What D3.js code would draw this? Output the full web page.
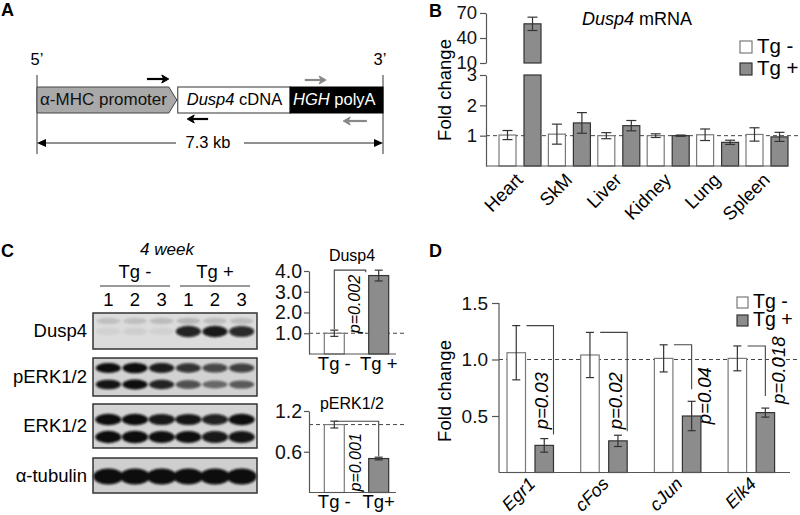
<!DOCTYPE html>
<html>
<head>
<meta charset="utf-8">
<script src="https://cdn.jsdelivr.net/npm/d3@7"></script>
<style>
  body { margin: 0; background: #fff; }
</style>
</head>
<body>
<svg id="fig" width="800" height="515"></svg>
<script>
// ---------- data ----------
// panel A: construct map, positions in kb
const constructKb = 7.3
const segNames = ['α-MHC promoter', 'Dusp4 cDNA', 'HGH polyA']
const segStartKb = [0, 2.97, 5.34]
const segEndKb = [2.95, 5.34, 7.3]
const primerFromKb = [2.32, 3.61, 5.65, 6.96]
const primerToKb = [2.78, 3.17, 6.1, 6.46]

// panel B: Dusp4 mRNA by tissue
const tissues = ['Heart', 'SkM', 'Liver', 'Kidney', 'Lung', 'Spleen']
const groups = ['Tg -', 'Tg +']
const mrnaNeg = [1.02, 1.05, 1.0, 1.0, 1.03, 1.04]
const mrnaNegErr = [0.15, 0.33, 0.1, 0.06, 0.19, 0.22]
const mrnaPos = [57, 1.42, 1.33, 1.0, 0.78, 0.96]
const mrnaPosErr = [8, 0.34, 0.17, 0.02, 0.07, 0.15]
const mrnaLowTicks = [1, 2, 3]
const mrnaHighTicks = [10, 40, 70]

// panel C: western blots (band intensity per lane) and quantification
const laneNumbers = [1, 2, 3, 1, 2, 3]
const blotNames = ['Dusp4', 'pERK1/2', 'ERK1/2', 'α-tubulin']
const dusp4Band = [0.05, 0.06, 0.05, 0.85, 0.9, 0.82]
const dusp4Smear = [0.12, 0.12, 0.14, 0.16, 0.14, 0.14]
const perkUpper = [0.95, 1.0, 0.88, 0.78, 0.68, 0.72]
const perkLower = [0.92, 0.98, 0.85, 0.65, 0.48, 0.55]
const erkUpper = [0.95, 1.0, 0.9, 0.92, 0.86, 0.95]
const erkLower = [0.98, 1.0, 0.94, 0.94, 0.9, 0.92]
const tubulinBand = [1, 1, 1, 1, 1, 1]
const dusp4Protein = [1.0, 3.78]
const dusp4ProteinErr = [0.15, 0.26]
const dusp4Ticks = [1, 2, 3, 4]
const perkProtein = [1.0, 0.5]
const perkProteinErr = [0.05, 0.02]
const perkTicks = [0.6, 1.2]
const cLabelsTop = ['Tg -', 'Tg +']
const cLabelsBottom = ['Tg -', 'Tg+']

// panel D: target genes
const genes = ['Egr1', 'cFos', 'cJun', 'Elk4']
const geneNeg = [1.06, 1.04, 1.01, 1.01]
const geneNegErr = [0.24, 0.2, 0.12, 0.11]
const genePos = [0.24, 0.28, 0.5, 0.53]
const genePosErr = [0.06, 0.05, 0.13, 0.04]
const pValues = ['0.03', '0.02', '0.04', '0.018']
const geneTicks = [0.5, 1.0, 1.5]

// ---------- drawing ----------
const FONT = "'Liberation Sans', Arial, Helvetica, sans-serif"
const NEG_FILL = '#ffffff', NEG_STROKE = '#7a7a7a'
const POS_FILL = '#8c8c8c', POS_STROKE = '#333'
const AXIS = '#555'

const svg = d3.select('#fig').attr('font-family', FONT)

const defs = svg.append('defs')
defs.append('filter').attr('id', 'blur')
  .attr('x', '-50%').attr('y', '-50%').attr('width', '200%').attr('height', '200%')
  .append('feGaussianBlur').attr('stdDeviation', 1.3)

function panelLetter(letter, x, y) {
  svg.append('text').attr('x', x).attr('y', y)
    .attr('font-size', 18).attr('font-weight', 'bold').text(letter)
}

function styleAxis(g, size) {
  g.attr('font-family', FONT)
  g.select('.domain').attr('stroke', AXIS).attr('stroke-width', 1.2)
  g.selectAll('.tick line').attr('stroke', AXIS).attr('stroke-width', 1.2)
  g.selectAll('.tick text').attr('font-size', size).attr('fill', '#111')
}

function errorBar(g, x, y1, y2, w) {
  g.append('line').attr('x1', x).attr('x2', x).attr('y1', y1).attr('y2', y2)
    .attr('stroke', '#333').attr('stroke-width', 1.2)
  g.append('line').attr('x1', x - w / 2).attr('x2', x + w / 2).attr('y1', y1).attr('y2', y1)
    .attr('stroke', '#333').attr('stroke-width', 1.2)
  g.append('line').attr('x1', x - w / 2).attr('x2', x + w / 2).attr('y1', y2).attr('y2', y2)
    .attr('stroke', '#333').attr('stroke-width', 1.2)
}

function legend(x, y, gap, size, fs) {
  const g = svg.append('g')
  groups.forEach((d, i) => {
    g.append('rect').attr('x', x).attr('y', y + i * gap).attr('width', size).attr('height', size)
      .attr('fill', i ? POS_FILL : NEG_FILL).attr('stroke', i ? POS_STROKE : NEG_STROKE).attr('stroke-width', 1.2)
    g.append('text').attr('x', x + size + 5).attr('y', y + i * gap + size)
      .attr('font-size', fs).text(d)
  })
}

// ===== Panel A =====
panelLetter('A', 1, 16)
{
  const kb = d3.scaleLinear().domain([0, constructKb]).range([37, 383])
  const top = 87, bot = 113, mid = (top + bot) / 2
  const g = svg.append('g')

  g.selectAll('line.end').data([0, constructKb]).enter().append('line')
    .attr('x1', d => kb(d)).attr('x2', d => kb(d)).attr('y1', 75).attr('y2', 154)
    .attr('stroke', '#333').attr('stroke-width', 1)
  g.append('text').attr('x', kb(0)).attr('y', 65).attr('text-anchor', 'middle').attr('font-size', 16.5).text('5’')
  g.append('text').attr('x', kb(constructKb) - 3).attr('y', 65).attr('text-anchor', 'middle').attr('font-size', 16.5).text('3’')

  // promoter arrow
  const p0 = kb(segStartKb[0]), p1 = kb(segEndKb[0])
  g.append('path')
    .attr('d', `M${p0},${top}H${p1 - 8}L${p1},${mid}L${p1 - 8},${bot}H${p0}Z`)
    .attr('fill', '#a9a9a9').attr('stroke', '#444').attr('stroke-width', 1)
  g.append('rect').attr('x', kb(segStartKb[1])).attr('y', top)
    .attr('width', kb(segEndKb[1]) - kb(segStartKb[1])).attr('height', bot - top)
    .attr('fill', '#fff').attr('stroke', '#333').attr('stroke-width', 1)
  g.append('rect').attr('x', kb(segStartKb[2])).attr('y', top)
    .attr('width', kb(segEndKb[2]) - kb(segStartKb[2])).attr('height', bot - top)
    .attr('fill', '#000').attr('stroke', '#000')

  const t0 = g.append('text').attr('x', p0 + 3).attr('y', 105).attr('font-size', 17).attr('fill', '#111')
  t0.text(segNames[0])
  const [dName, dRest] = segNames[1].split(' ')
  const t1 = g.append('text').attr('x', kb(segStartKb[1]) + 9).attr('y', 105).attr('font-size', 16.5)
  t1.append('tspan').attr('font-style', 'italic').text(dName)
  t1.append('tspan').text(' ' + dRest)
  const [hName, hRest] = segNames[2].split(' ')
  const t2 = g.append('text').attr('x', kb(segStartKb[2]) + 3).attr('y', 105).attr('font-size', 16.5).attr('fill', '#fff')
  t2.append('tspan').attr('font-style', 'italic').text(hName)
  t2.append('tspan').text(' ' + hRest)

  // primers
  const primerY = [79, 119, 80, 121]
  const primerCol = ['#000', '#000', '#888', '#888']
  primerFromKb.forEach((f, i) => {
    const x1 = kb(f), x2 = kb(primerToKb[i]), y = primerY[i]
    const dir = x2 > x1 ? 1 : -1
    g.append('line').attr('x1', x1).attr('x2', x2 - dir * 5).attr('y1', y).attr('y2', y)
      .attr('stroke', primerCol[i]).attr('stroke-width', 2.2)
    g.append('path').attr('d', `M${x2},${y}L${x2 - dir * 7},${y - 4}L${x2 - dir * 5},${y}L${x2 - dir * 7},${y + 4}Z`)
      .attr('fill', primerCol[i]).attr('stroke', primerCol[i]).attr('stroke-width', 1)
  })

  // length dimension
  const dy = 143, xl = kb(0), xr = kb(constructKb), tc = kb(constructKb / 2) - 2
  g.append('line').attr('x1', xl + 8).attr('x2', tc - 32).attr('y1', dy).attr('y2', dy).attr('stroke', '#222')
  g.append('line').attr('x1', tc + 36).attr('x2', xr - 8).attr('y1', dy).attr('y2', dy).attr('stroke', '#222')
  g.append('path').attr('d', `M${xl},${dy}L${xl + 9},${dy - 4}L${xl + 9},${dy + 4}Z`).attr('fill', '#000')
  g.append('path').attr('d', `M${xr},${dy}L${xr - 9},${dy - 4}L${xr - 9},${dy + 4}Z`).attr('fill', '#000')
  g.append('text').attr('x', tc).attr('y', 148).attr('text-anchor', 'middle').attr('font-size', 16.5)
    .text(`${constructKb} kb`)
}

// ===== Panel B =====
panelLetter('B', 429, 17)
{
  const g = svg.append('g')
  const axX = 486, base = 166
  const yLo = d3.scaleLinear().domain([0, 3]).range([base, 75])
  const yHi = d3.scaleLinear().domain([10, 70]).range([63, 13])
  const x0 = d3.scaleBand().domain(tissues).range([495.3, 495.3 + 6 * 49.4])
  const x1 = d3.scaleBand().domain(groups).range([0, x0.bandwidth()]).paddingInner(0.32).paddingOuter(0.148)

  g.append('line').attr('x1', axX).attr('x2', 800).attr('y1', yLo(1)).attr('y2', yLo(1))
    .attr('stroke', '#444').attr('stroke-dasharray', '4,3')

  const rows = tissues.map((t, i) => [
    { t, grp: groups[0], v: mrnaNeg[i], e: mrnaNegErr[i] },
    { t, grp: groups[1], v: mrnaPos[i], e: mrnaPosErr[i] }
  ]).flat()

  rows.forEach(d => {
    const x = x0(d.t) + x1(d.grp), w = x1.bandwidth(), pos = d.grp === groups[1]
    const fill = pos ? POS_FILL : NEG_FILL, stroke = pos ? POS_STROKE : NEG_STROKE
    if (d.v > 3) {
      // value above the axis break: lower stub up to 3, upper piece from 10
      g.append('rect').attr('x', x).attr('y', yLo(3)).attr('width', w).attr('height', base - yLo(3))
        .attr('fill', fill).attr('stroke', stroke).attr('stroke-width', 1.2)
      g.append('rect').attr('x', x).attr('y', yHi(d.v)).attr('width', w).attr('height', yHi(10) - yHi(d.v))
        .attr('fill', fill).attr('stroke', stroke).attr('stroke-width', 1.2)
      errorBar(g, x + w / 2, yHi(d.v + d.e), yHi(d.v - d.e), 10)
    } else {
      g.append('rect').attr('x', x).attr('y', yLo(d.v)).attr('width', w).attr('height', base - yLo(d.v))
        .attr('fill', fill).attr('stroke', stroke).attr('stroke-width', 1.2)
      errorBar(g, x + w / 2, yLo(d.v + d.e), yLo(d.v - d.e), 10)
    }
  })

  g.append('line').attr('x1', axX).attr('x2', 788).attr('y1', base).attr('y2', base)
    .attr('stroke', AXIS).attr('stroke-width', 1.2)
  const aLo = g.append('g').attr('transform', `translate(${axX},0)`)
    .call(d3.axisLeft(yLo).tickValues(mrnaLowTicks).tickSize(6).tickSizeOuter(0).tickPadding(3).tickFormat(d3.format('d')))
  styleAxis(aLo, 18.5)
  const aHi = g.append('g').attr('transform', `translate(${axX},0)`)
    .call(d3.axisLeft(yHi).tickValues(mrnaHighTicks).tickSize(6).tickSizeOuter(0).tickPadding(3).tickFormat(d3.format('d')))
  styleAxis(aHi, 18.5)

  g.append('text').attr('transform', 'translate(451,90) rotate(-90)').attr('text-anchor', 'middle')
    .attr('font-size', 18.5).text('Fold change')

  const title = g.append('text').attr('x', 582).attr('y', 25).attr('font-size', 18)
  title.append('tspan').attr('font-style', 'italic').text('Dusp4')
  title.append('tspan').text(' mRNA')

  g.selectAll('text.xl').data(tissues).enter().append('text')
    .attr('transform', d => `translate(${x0(d) + x0.bandwidth() / 2 + 4},181) rotate(-45)`)
    .attr('text-anchor', 'end').attr('font-size', 18.5).text(d => d)

  legend(740, 41, 22, 12, 20.5)
}

// ===== Panel C: blots =====
panelLetter('C', 1, 257)
{
  const g = svg.append('g')
  const lane = d3.scaleBand().domain(d3.range(6)).range([95, 255])
  const cx = i => lane(i) + lane.bandwidth() / 2

  g.append('text').attr('x', 167).attr('y', 255).attr('text-anchor', 'middle')
    .attr('font-size', 17).attr('font-style', 'italic').text('4 week')
  ;[[0, 2], [3, 5]].forEach((r, k) => {
    const xa = lane(r[0]) + 5, xb = lane(r[1]) + lane.bandwidth() - 5
    g.append('text').attr('x', (xa + xb) / 2).attr('y', 278).attr('text-anchor', 'middle')
      .attr('font-size', 18.5).text(groups[k])
    g.append('line').attr('x1', xa).attr('x2', xb).attr('y1', 286).attr('y2', 286)
      .attr('stroke', '#777').attr('stroke-width', 1.5)
  })
  g.selectAll('text.lane').data(laneNumbers).enter().append('text')
    .attr('x', (d, i) => cx(i)).attr('y', 306).attr('text-anchor', 'middle')
    .attr('font-size', 18.5).text(d => d)

  const blots = [
    { top: 313, h: 36, bg: '#dcdcdc', bands: [{ y: 321, rx: 12, ry: 5, v: dusp4Smear }, { y: 331.5, rx: 12.5, ry: 6, v: dusp4Band }] },
    { top: 358, h: 38, bg: '#d2d2d2', bands: [{ y: 368, rx: 12.5, ry: 5.2, v: perkUpper }, { y: 384.5, rx: 12.5, ry: 5, v: perkLower }] },
    { top: 404, h: 44, bg: '#d4d4d4', bands: [{ y: 419.5, rx: 13, ry: 5.8, v: erkUpper }, { y: 437, rx: 13, ry: 6.2, v: erkLower }] },
    { top: 458, h: 35, bg: '#cfcfcf', bands: [{ y: 476.5, rx: 15, ry: 8, v: tubulinBand }] }
  ]
  blots.forEach((b, k) => {
    g.append('rect').attr('x', 93).attr('y', b.top).attr('width', 164).attr('height', b.h).attr('fill', b.bg)
    b.bands.forEach(band => {
      g.append('g').attr('filter', 'url(#blur)').selectAll('ellipse').data(band.v).enter().append('ellipse')
        .attr('cx', (d, i) => cx(i)).attr('cy', band.y).attr('rx', band.rx).attr('ry', d => band.ry * (0.6 + 0.4 * d))
        .attr('fill', '#0a0a0a').attr('opacity', d => Math.min(1, d * 1.05))
    })
    g.append('rect').attr('x', 93).attr('y', b.top).attr('width', 164).attr('height', b.h)
      .attr('fill', 'none').attr('stroke', '#333').attr('stroke-width', 1.5)
    g.append('text').attr('x', 87).attr('y', b.top + b.h / 2 + 6).attr('text-anchor', 'end')
      .attr('font-size', 18.5).text(blotNames[k])
  })
}

// ===== Panel C: quantification =====
{
  const g = svg.append('g')
  const axX = 309
  const xc = d3.scaleBand().domain(groups).range([axX, 404]).paddingInner(0.55).paddingOuter(0.345)
  const w = xc.bandwidth()

  function miniChart(y, vals, errs, ticks, title, titleY, labels, labelY) {
    const y0 = y.range()[0]
    g.append('line').attr('x1', axX).attr('x2', 405).attr('y1', y(1)).attr('y2', y(1))
      .attr('stroke', '#444').attr('stroke-dasharray', '4,3')
    groups.forEach((grp, i) => {
      const pos = i === 1
      g.append('rect').attr('x', xc(grp)).attr('y', y(vals[i])).attr('width', w).attr('height', y0 - y(vals[i]))
        .attr('fill', pos ? POS_FILL : NEG_FILL).attr('stroke', pos ? POS_STROKE : NEG_STROKE).attr('stroke-width', 1.2)
      errorBar(g, xc(grp) + w / 2, y(vals[i] + errs[i]), y(vals[i] - errs[i]), 8)
      g.append('text').attr('x', xc(grp) + w / 2).attr('y', labelY).attr('text-anchor', 'middle')
        .attr('font-size', 18.5).text(labels[i])
    })
    g.append('line').attr('x1', axX).attr('x2', 396).attr('y1', y0).attr('y2', y0)
      .attr('stroke', AXIS).attr('stroke-width', 1.2)
    const a = g.append('g').attr('transform', `translate(${axX},0)`)
      .call(d3.axisLeft(y).tickValues(ticks).tickSize(5).tickSizeOuter(0).tickPadding(2).tickFormat(d3.format('.1f')))
    styleAxis(a, 19.5)
    g.append('text').attr('x', 352).attr('y', titleY).attr('text-anchor', 'middle')
      .attr('font-size', 16).text(title)
  }

  const yD = d3.scaleLinear().domain([0, 4]).range([354, 271])
  miniChart(yD, dusp4Protein, dusp4ProteinErr, dusp4Ticks, 'Dusp4', 261, cLabelsTop, 370)
  const nx = xc(groups[0]) + w / 2
  const topY = yD(dusp4Protein[1] + dusp4ProteinErr[1])
  g.append('path')
    .attr('d', `M${nx},${yD(dusp4Protein[0] + dusp4ProteinErr[0]) - 1}V${topY}H${xc(groups[1]) - 3}v2`)
    .attr('fill', 'none').attr('stroke', '#444').attr('stroke-width', 1.1)
  g.append('text').attr('transform', `translate(${xc(groups[0]) + w + 16},${yD(dusp4Protein[0])}) rotate(-90)`)
    .attr('font-size', 16).attr('font-style', 'italic').text('p=0.002')

  const yP = d3.scaleLinear().domain([0, 1.2]).range([492.5, 411])
  miniChart(yP, perkProtein, perkProteinErr, perkTicks, 'pERK1/2', 409, cLabelsBottom, 508)
  const px = xc(groups[1]) + w / 2
  g.append('path')
    .attr('d', `M${nx},${yP(perkProtein[0] + perkProteinErr[0])}H${px}V${yP(perkProtein[1] + perkProteinErr[1]) - 1}`)
    .attr('fill', 'none').attr('stroke', '#444').attr('stroke-width', 1.1)
  g.append('text').attr('transform', `translate(${xc(groups[0]) + w + 17},${yP(0) - 1}) rotate(-90)`)
    .attr('font-size', 16).attr('font-style', 'italic').text('p=0.001')
}

// ===== Panel D =====
panelLetter('D', 429, 257)
{
  const g = svg.append('g')
  const axX = 499, base = 472.5
  const y = d3.scaleLinear().domain([0, 1.5]).range([base, 303])
  const x0 = d3.scaleBand().domain(genes).range([493.4, 493.4 + 4 * 73.7])
  const x1 = d3.scaleBand().domain(groups).range([0, x0.bandwidth()]).paddingInner(0.339).paddingOuter(0.486)
  const w = x1.bandwidth()

  g.append('line').attr('x1', axX).attr('x2', 800).attr('y1', y(1)).attr('y2', y(1))
    .attr('stroke', '#444').attr('stroke-dasharray', '4,3')

  // centre of each rotated p label, in fold-change units
  const pLabelAt = [0.635, 0.635, 0.68, 0.905]

  genes.forEach((gene, i) => {
    const xn = x0(gene) + x1(groups[0]), xp = x0(gene) + x1(groups[1])
    g.append('rect').attr('x', xn).attr('y', y(geneNeg[i])).attr('width', w).attr('height', base - y(geneNeg[i]))
      .attr('fill', NEG_FILL).attr('stroke', NEG_STROKE).attr('stroke-width', 1.2)
    g.append('rect').attr('x', xp).attr('y', y(genePos[i])).attr('width', w).attr('height', base - y(genePos[i]))
      .attr('fill', POS_FILL).attr('stroke', POS_STROKE).attr('stroke-width', 1.2)
    errorBar(g, xn + w / 2, y(geneNeg[i] + geneNegErr[i]), y(geneNeg[i] - geneNegErr[i]), 8)
    errorBar(g, xp + w / 2, y(genePos[i] + genePosErr[i]), y(genePos[i] - genePosErr[i]), 8)

    // significance bracket and p value
    const inside = i < 2
    const bx = inside ? xp + w : xp + w / 2
    const posTop = y(genePos[i] + genePosErr[i])
    const by = inside ? posTop - 4 : posTop - 12
    g.append('path').attr('d', `M${xn + w + 1},${y(geneNeg[i] + geneNegErr[i])}H${bx}V${by}`)
      .attr('fill', 'none').attr('stroke', '#444').attr('stroke-width', 1.1)
    const tx = inside ? xp + w / 2 + 4 : xp + w + 10
    g.append('text').attr('transform', `translate(${tx},${y(pLabelAt[i])}) rotate(-90)`)
      .attr('text-anchor', 'middle').attr('font-size', 18.5).attr('font-style', 'italic')
      .text('p=' + pValues[i])
  })

  g.append('line').attr('x1', axX).attr('x2', 790).attr('y1', base).attr('y2', base)
    .attr('stroke', AXIS).attr('stroke-width', 1.2)
  const a = g.append('g').attr('transform', `translate(${axX},0)`)
    .call(d3.axisLeft(y).tickValues(geneTicks).tickSize(7).tickSizeOuter(0).tickPadding(4).tickFormat(d3.format('.1f')))
  styleAxis(a, 19)
  a.select('.domain').attr('d', `M-0,${base}V${y(1.5)}`)

  g.append('text').attr('transform', 'translate(451,391) rotate(-90)').attr('text-anchor', 'middle')
    .attr('font-size', 18.5).text('Fold change')

  g.selectAll('text.xl').data(genes).enter().append('text')
    .attr('transform', d => `translate(${x0(d) + x0.bandwidth() / 2 + 6},485) rotate(-45)`)
    .attr('text-anchor', 'end').attr('font-size', 18).attr('font-style', 'italic').text(d => d)

  legend(737, 297, 18, 11, 19.5)
}
</script>
</body>
</html>
